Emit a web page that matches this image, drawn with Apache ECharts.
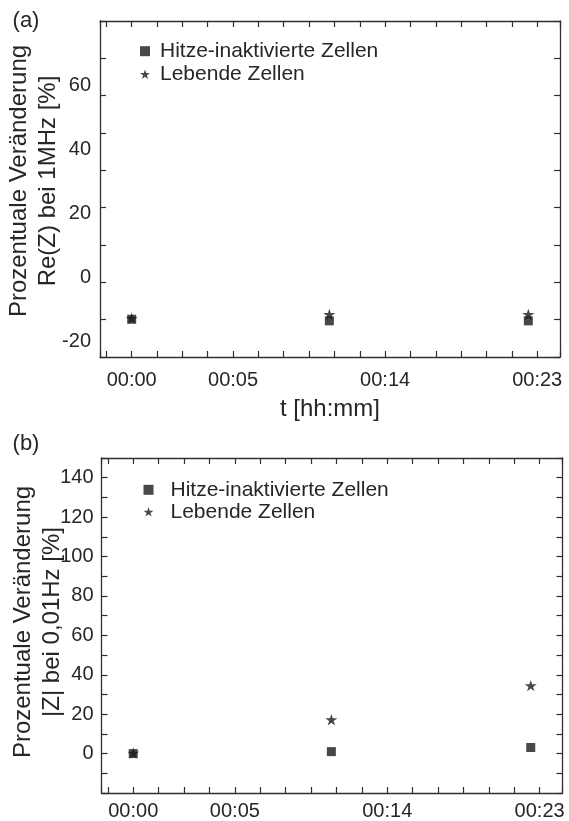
<!DOCTYPE html>
<html><head><meta charset="utf-8">
<script src="https://cdn.jsdelivr.net/npm/echarts@6/dist/echarts.min.js"></script>
<style>html,body{margin:0;padding:0;background:#fff}#c{width:569px;height:821px}</style>
</head><body><div id="c"></div>
<script>
// ---- data ----
const xTickLabels = {1: '00:00', 5: '00:05', 11: '00:14', 17: '00:23'};
const xPos = [1, 8.8, 16.65];
const seriesNames = ['Hitze-inaktivierte Zellen', 'Lebende Zellen'];
const reHitze = [-13.2, -13.7, -13.7];
const reLebend = [-12.9, -11.7, -11.7];
const absHitze = [0, 1.0, 3.1];
const absLebend = [0.3, 17.2, 34.5];
const yLabelsA = [-20, 0, 20, 40, 60];
const yLabelsB = [0, 20, 40, 60, 80, 100, 120, 140];
const yNameA = ['Prozentuale Veränderung', 'Re(Z) bei 1MHz [%]'];
const yNameB = ['Prozentuale Veränderung', '|Z| bei 0,01Hz [%]'];
const xName = 't [hh:mm]';

// ---- styling ----
const FONT = '"Liberation Sans", Arial, sans-serif';
const TXT = '#262626';
const LINE = '#303030';
const MARK = '#1a1a1a';
const STAR = 'path://M0,-10L2.245,-3.09L9.51,-3.09L3.633,1.18L5.88,8.09L0,3.82L-5.88,8.09L-3.633,1.18L-9.51,-3.09L-2.245,-3.09Z';

const line = {show: true, onZero: false, lineStyle: {color: LINE, width: 1.3}};
const tick = {show: true, inside: true, length: 6, lineStyle: {color: LINE, width: 1.2}};
const noLine = {show: false, onZero: false};

function xFmt(v) {
  const r = Math.round(v);
  if (Math.abs(v - r) < 1e-6 && xTickLabels[r] !== undefined) return xTickLabels[r];
  return '';
}

function xAxes(grid, withLabels, margin, name) {
  const base = {type: 'value', gridIndex: grid, min: -0.25, max: 17.9, minInterval: 1, maxInterval: 1,
    splitNumber: 18, splitLine: {show: false}, axisLine: line, axisTick: tick};
  return [
    Object.assign({}, base, {position: 'bottom',
      axisLabel: {show: withLabels, formatter: xFmt, fontSize: 20, fontFamily: FONT, color: TXT, margin: margin,
        showMinLabel: true, showMaxLabel: true},
      name: name || '', nameLocation: 'middle', nameGap: 40,
      nameTextStyle: {fontSize: 24, fontFamily: FONT, color: TXT}}),
    Object.assign({}, base, {position: 'top', axisLabel: {show: false}})
  ];
}

const option = {
  animation: false,
  backgroundColor: '#fff',
  textStyle: {fontFamily: FONT},
  grid: [
    {left: 100, right: 9, top: 21, bottom: 464},
    {left: 101.5, right: 6.5, top: 458, bottom: 27.7}
  ],
  xAxis: [].concat(xAxes(0, true, 13, xName), xAxes(1, true, 8, '')),
  yAxis: [
    // panel (a): labels
    {type: 'value', gridIndex: 0, position: 'left', min: -25, max: 80, interval: 5,
      splitLine: {show: false}, axisLine: line, axisTick: {show: false},
      axisLabel: {formatter: v => yLabelsA.indexOf(v) >= 0 ? String(v) : '', fontSize: 20, fontFamily: FONT, color: TXT, margin: 9}},
    // panel (a): left ticks
    {type: 'value', gridIndex: 0, position: 'left', min: -25, max: 80, interval: 105 / 9,
      splitLine: {show: false}, axisLine: noLine, axisTick: tick, axisLabel: {show: false}},
    // panel (a): right frame
    {type: 'value', gridIndex: 0, position: 'right', min: -25, max: 80, interval: 105 / 9,
      splitLine: {show: false}, axisLine: line, axisTick: tick, axisLabel: {show: false}},
    // panel (b): left
    {type: 'value', gridIndex: 1, position: 'left', min: -20, max: 150, interval: 10,
      splitLine: {show: false}, axisLine: line, axisTick: tick,
      axisLabel: {formatter: v => yLabelsB.indexOf(v) >= 0 ? String(v) : '', fontSize: 20, fontFamily: FONT, color: TXT, margin: 8}},
    // panel (b): right frame
    {type: 'value', gridIndex: 1, position: 'right', min: -20, max: 150, interval: 10,
      splitLine: {show: false}, axisLine: line, axisTick: tick, axisLabel: {show: false}}
  ],
  legend: [
    {orient: 'vertical', left: 135, top: 35.7, itemWidth: 10, itemHeight: 10, itemGap: 2,
      data: seriesNames,
      textStyle: {fontSize: 21, fontFamily: FONT, color: TXT, lineHeight: 20, padding: [0, 0, 0, 5]}},
    {orient: 'vertical', left: 138.5, top: 474.3, itemWidth: 10, itemHeight: 10, itemGap: 1,
      data: seriesNames,
      textStyle: {fontSize: 21, fontFamily: FONT, color: TXT, lineHeight: 20, padding: [0, 0, 0, 12]}}
  ],
  graphic: [
    {type: 'text', x: 26, y: 21, style: {text: '(a)', font: '22px ' + FONT, fill: TXT, align: 'center', verticalAlign: 'middle'}},
    {type: 'text', x: 26, y: 444, style: {text: '(b)', font: '22px ' + FONT, fill: TXT, align: 'center', verticalAlign: 'middle'}},
    {type: 'text', x: 34, y: 181, rotation: Math.PI / 2,
      style: {text: yNameA.join('\n'), font: '24px ' + FONT, fill: TXT, align: 'center', verticalAlign: 'middle', lineHeight: 29}},
    {type: 'text', x: 37.5, y: 622, rotation: Math.PI / 2,
      style: {text: yNameB.join('\n'), font: '24px ' + FONT, fill: TXT, align: 'center', verticalAlign: 'middle', lineHeight: 29}}
  ],
  series: [
    {name: seriesNames[1], type: 'scatter', xAxisIndex: 0, yAxisIndex: 0, symbol: STAR, symbolSize: [12, 11.4],
      itemStyle: {color: MARK}, data: xPos.map((x, i) => [x, reLebend[i]])},
    {name: seriesNames[0], type: 'scatter', xAxisIndex: 0, yAxisIndex: 0, symbol: 'rect', symbolSize: 9,
      itemStyle: {color: MARK}, data: xPos.map((x, i) => [x, reHitze[i]])},
    {name: seriesNames[1], type: 'scatter', xAxisIndex: 2, yAxisIndex: 3, symbol: STAR, symbolSize: [12, 11.4],
      itemStyle: {color: MARK}, data: xPos.map((x, i) => [x, absLebend[i]])},
    {name: seriesNames[0], type: 'scatter', xAxisIndex: 2, yAxisIndex: 3, symbol: 'rect', symbolSize: 9,
      itemStyle: {color: MARK}, data: xPos.map((x, i) => [x, absHitze[i]])}
  ]
};
const chart = echarts.init(document.getElementById('c'), null, {renderer: 'canvas'});
chart.setOption(option);
</script>
</body></html>
